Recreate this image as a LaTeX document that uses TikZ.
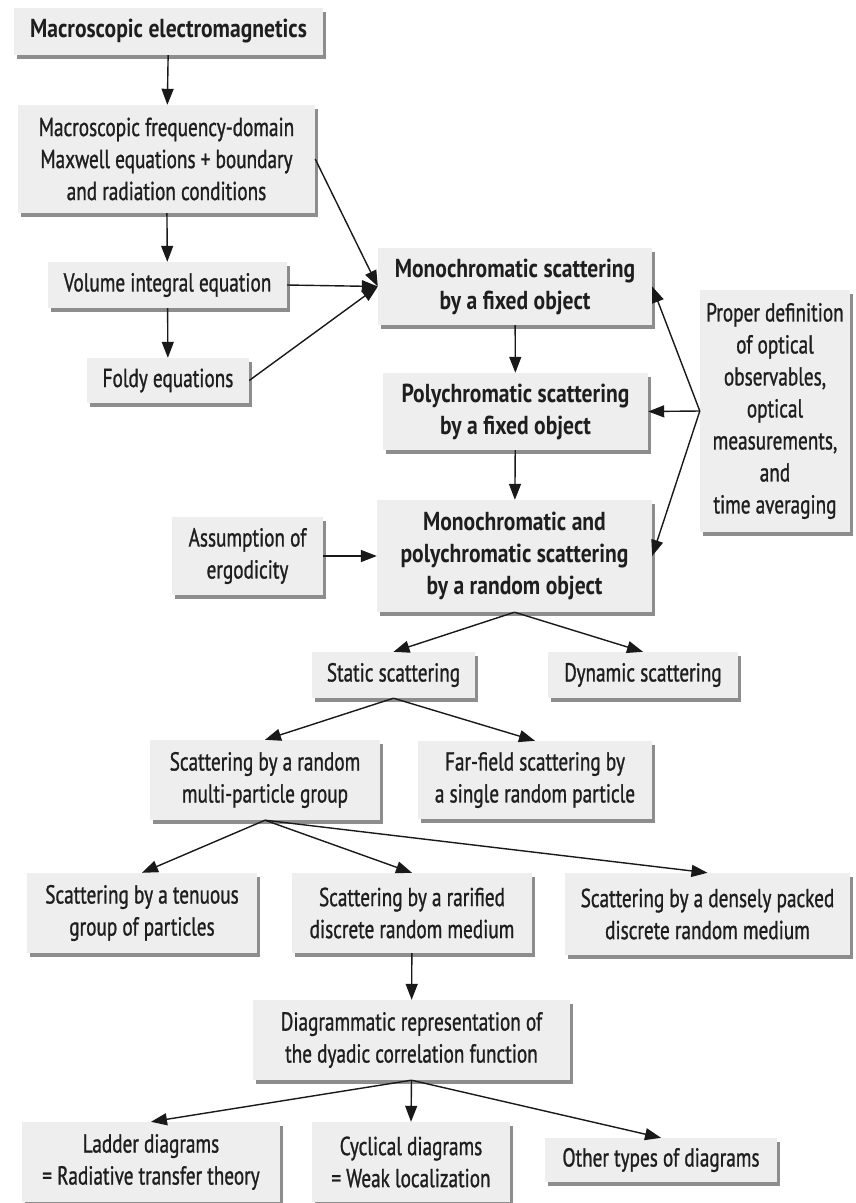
\documentclass[tikz,border=0pt]{standalone}
\usepackage{fontspec}
\setmainfont{PT Sans}[FakeStretch=0.74, FakeBold=1]
\newfontfamily\boldfam{PT Sans}[FakeStretch=0.83]
\usetikzlibrary{arrows.meta,shadows}
\definecolor{boxgray}{HTML}{EEEEEE}
\definecolor{txt}{HTML}{1E1E1E}
\definecolor{shd}{HTML}{7A7A7A}
\begin{document}
\begin{tikzpicture}[x=1pt,y=-1pt,
  box/.style={fill=boxgray, inner sep=0pt, align=center, text=txt,
    font=\fontsize{26}{32}\selectfont,
    drop shadow={shadow xshift=3pt, shadow yshift=-4pt, fill=shd, opacity=0.85}},
  bbox/.style={box, font=\fontsize{26}{32}\selectfont\boldfam\bfseries},
  arr/.style={draw=black!90, line width=1.4pt, -{Triangle[length=16pt,width=12pt]}}]
\useasboundingbox[fill=white] (0,0) rectangle (855,1203);

\node[bbox, minimum width=309pt, minimum height=47pt] (me) at (168.5,31.5) {Macroscopic electromagnetics};
\node[box, minimum width=297pt, minimum height=108pt] (mx) at (166.5,159) {Macroscopic frequency-domain\\Maxwell equations + boundary\\and radiation conditions};
\node[box, minimum width=239pt, minimum height=46pt] (vie) at (167.5,285) {Volume integral equation};
\node[box, minimum width=162pt, minimum height=45pt] (fe) at (168,380.5) {Foldy equations};

\node[bbox, minimum width=274pt, minimum height=77pt] (mf) at (515,286.5) {Monochromatic scattering\\by a fixed object};
\node[bbox, minimum width=265pt, minimum height=77pt] (pf) at (515.5,411.5) {Polychromatic scattering\\by a fixed object};
\node[bbox, minimum width=275pt, minimum height=112pt] (mr) at (514.5,556) {Monochromatic and\\polychromatic scattering\\by a random object};
\node[box, minimum width=150pt, minimum height=242pt] (pd) at (775,411) {Proper definition\\of optical\\observables,\\optical\\measurements,\\and\\time averaging};
\node[box, minimum width=151pt, minimum height=78pt] (ae) at (247.5,556) {Assumption of\\ergodicity};

\node[box, minimum width=163pt, minimum height=46pt] (ss) at (393.5,675) {Static scattering};
\node[box, minimum width=190pt, minimum height=46pt] (ds) at (643,675) {Dynamic scattering};

\node[box, minimum width=230pt, minimum height=80pt] (sr) at (265,780) {Scattering by a random\\multi-particle group};
\node[box, minimum width=234pt, minimum height=78pt] (ff) at (535,780) {Far-field scattering by\\a single random particle};

\node[box, minimum width=230pt, minimum height=80pt] (tg) at (142,913) {Scattering by a tenuous\\group of particles};
\node[box, minimum width=240pt, minimum height=80pt] (rm) at (412,913) {Scattering by a rarified\\discrete random medium};
\node[box, minimum width=285pt, minimum height=82pt] (dm) at (707.5,914) {Scattering by a densely packed\\discrete random medium};

\node[box, minimum width=317pt, minimum height=80pt] (dr) at (411.5,1040) {Diagrammatic representation of\\the dyadic correlation function};

\node[box, minimum width=258pt, minimum height=80pt] (ld) at (151,1162) {Ladder diagrams\\= Radiative transfer theory};
\node[box, minimum width=198pt, minimum height=80pt] (cd) at (411,1162) {Cyclical diagrams\\= Weak localization};
\node[box, minimum width=232pt, minimum height=44pt] (od) at (661,1160) {Other types of diagrams};

% connectors
\draw[arr] (me) -- (mx);
\draw[arr] (mx) -- (vie);
\draw[arr] (vie) -- (fe);
\draw[arr] (mx.east) -- (mf.west);
\draw[arr] (vie.east) -- (mf.west);
\draw[arr] (fe.east) -- (mf.west);
\draw[arr] (mf) -- (pf);
\draw[arr] (pf) -- (mr);
\draw[arr] (pd.west) -- (mf.east);
\draw[arr] (pd.west) -- (pf.east);
\draw[arr] (pd.west) -- (mr.east);
\draw[arr] (ae) -- (mr);
\draw[arr] (mr.south) -- (ss.north);
\draw[arr] (mr.south) -- (ds.north);
\draw[arr] (ss.south) -- (sr.north);
\draw[arr] (ss.south) -- (ff.north);
\draw[arr] (sr.south) -- (tg.north);
\draw[arr] (sr.south) -- (rm.north);
\draw[arr] (sr.south) -- (dm.north);
\draw[arr] (rm) -- (dr);
\draw[arr] (dr.south) -- (ld.north);
\draw[arr] (dr.south) -- (cd.north);
\draw[arr] (dr.south) -- (od.north);
\end{tikzpicture}
\end{document}
